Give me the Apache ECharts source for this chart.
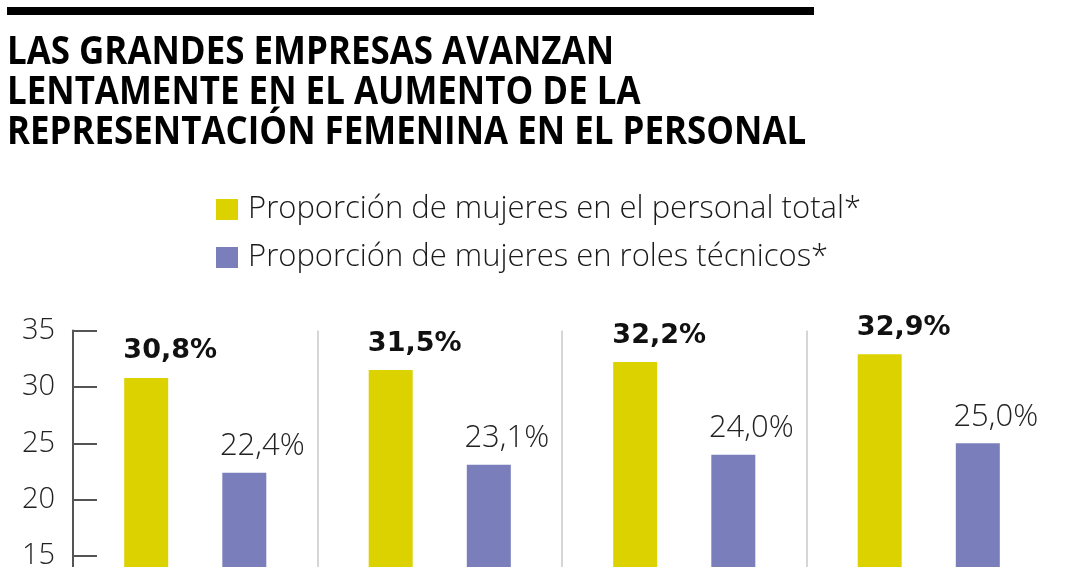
<!DOCTYPE html>
<html>
<head>
<meta charset="utf-8">
<script src="https://cdn.jsdelivr.net/npm/echarts@6/dist/echarts.min.js"></script>
<style>
html,body{margin:0;padding:0;background:#fff;overflow:hidden;width:1080px;height:567px;}
#chart{width:1080px;height:740px;}
</style>
</head>
<body>
<div id="chart"></div>
<script>
const titleLines = ['LAS GRANDES EMPRESAS AVANZAN', 'LENTAMENTE EN EL AUMENTO DE LA', 'REPRESENTACIÓN FEMENINA EN EL PERSONAL'];
const seriesNames = ['Proporción de mujeres en el personal total*', 'Proporción de mujeres en roles técnicos*'];
const categories = ['1', '2', '3', '4'];
const totalValues = [30.8, 31.5, 32.2, 32.9];
const techValues = [22.4, 23.1, 24.0, 25.0];
const yMin = 0, yMax = 35, yStep = 5;

const fmt = v => v.toFixed(1).replace('.', ',') + '%';
const chart = echarts.init(document.getElementById('chart'), null, {renderer: 'canvas'});
chart.setOption({
  animation: false,
  backgroundColor: '#fff',
  graphic: [
    {type: 'rect', left: 7, top: 7, shape: {width: 807, height: 8}, style: {fill: '#000'}},
    {type: 'text', x: 7, y: 33, scaleX: 0.895, style: {
      text: titleLines.join('\n'), fill: '#000',
      font: 'bold 39px "Open Sans"', lineHeight: 40
    }}
  ],
  legend: {
    orient: 'vertical', left: 216, top: 194, padding: 0,
    itemWidth: 22, itemHeight: 21, itemGap: 17, icon: 'rect',
    textStyle: {fontFamily: 'Open Sans', fontWeight: 300, fontSize: 31, lineHeight: 29, color: '#1a1a1a', padding: [0, 0, 0, 5]},
    data: seriesNames
  },
  grid: {left: 73, top: 330.5, width: 978, height: 402.5},
  xAxis: {
    type: 'category', data: categories,
    axisLine: {show: false}, axisTick: {show: false}, axisLabel: {show: false},
    splitLine: {show: true, showMinLine: false, showMaxLine: false, lineStyle: {color: '#c8c8c8', width: 1.5}}
  },
  yAxis: {
    type: 'value', min: yMin, max: yMax, interval: yStep,
    axisLine: {show: true, lineStyle: {color: '#555', width: 2}},
    axisTick: {show: true, inside: true, length: 24, lineStyle: {color: '#555', width: 2}},
    axisLabel: {margin: 18, fontFamily: 'Open Sans', fontWeight: 300, fontSize: 29, color: '#222'},
    splitLine: {show: false}
  },
  series: [
    {
      name: seriesNames[0], type: 'bar', data: totalValues, barWidth: 44, barGap: '123%',
      itemStyle: {color: '#DCD200'},
      label: {show: true, position: 'top', distance: 13, offset: [24, 0], formatter: p => fmt(p.value),
        fontFamily: 'DejaVu Sans', fontWeight: 'bold', fontSize: 27, color: '#111'}
    },
    {
      name: seriesNames[1], type: 'bar', data: techValues, barWidth: 44,
      itemStyle: {color: '#7A7FBC'},
      label: {show: true, position: 'top', distance: 11, offset: [18, 0], formatter: p => fmt(p.value),
        fontFamily: 'Open Sans', fontWeight: 300, fontSize: 31, color: '#222'}
    }
  ]
});
</script>
</body>
</html>
